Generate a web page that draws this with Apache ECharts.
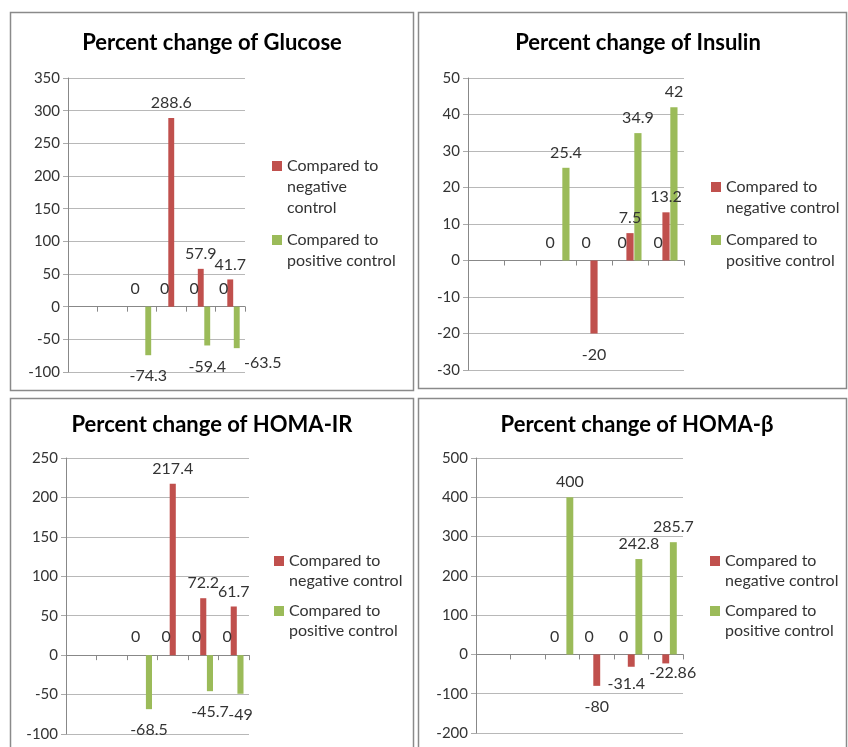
<!DOCTYPE html>
<html><head><meta charset="utf-8">
<script src="https://cdn.jsdelivr.net/npm/echarts@6/dist/echarts.min.js"></script>
<style>html,body{margin:0;padding:0;background:#fff}#c{width:848px;height:747px}</style>
</head><body><div id="c"></div>
<script>
// ---------- data ----------
const categories = ['G1', 'G2', 'G3', 'G4', 'G5', 'G6'];
const seriesNames = ['Compared to negative control', 'Compared to positive control'];
const zeroMarks = [null, null, 0, 0, 0, 0];

const glucoseNeg = [null, null, null, 288.6, 57.9, 41.7];
const glucosePos = [null, null, -74.3, null, -59.4, -63.5];
const glucoseTicks = [-100, -50, 0, 50, 100, 150, 200, 250, 300, 350];

const insulinNeg = [null, null, null, -20, 7.5, 13.2];
const insulinPos = [null, null, 25.4, null, 34.9, 42];
const insulinTicks = [-30, -20, -10, 0, 10, 20, 30, 40, 50];

const homaIrNeg = [null, null, null, 217.4, 72.2, 61.7];
const homaIrPos = [null, null, -68.5, null, -45.7, -49];
const homaIrTicks = [-100, -50, 0, 50, 100, 150, 200, 250];

const homaBNeg = [null, null, null, -80, -31.4, -22.86];
const homaBPos = [null, null, 400, null, 242.8, 285.7];
const homaBTicks = [-200, -100, 0, 100, 200, 300, 400, 500];

const titles = ['Percent change of Glucose', 'Percent change of Insulin', 'Percent change of HOMA-IR', 'Percent change of HOMA-β'];

// ---------- layout / style ----------
const FONT = 'Lato, "Open Sans", sans-serif';
const RED = '#C0504D', GREEN = '#9BBB59';
const panels = [
  { neg: glucoseNeg, pos: glucosePos, ticks: glucoseTicks, title: titles[0],
    box: [10.5, 12.5, 403, 378], grid: [68, 78, 177, 294], titleC: [212, 43],
    legendX: 272, legY: [166, 240], lh: 21,
    negText: 'Compared to\nnegative\ncontrol', posText: 'Compared to\npositive control',
    nudgePos: { 5: [26, -6] } },
  { neg: insulinNeg, pos: insulinPos, ticks: insulinTicks, title: titles[1],
    box: [418.5, 12.5, 428, 376], grid: [468, 78, 216, 292], titleC: [638, 43],
    legendX: 711, legY: [187, 240], lh: 21,
    negText: 'Compared to\nnegative control', posText: 'Compared to\npositive control' },
  { neg: homaIrNeg, pos: homaIrPos, ticks: homaIrTicks, title: titles[2],
    box: [10.5, 398.5, 403, 380], grid: [66, 458, 183, 276], titleC: [212, 425],
    legendX: 274, legY: [561, 611], lh: 20,
    negText: 'Compared to\nnegative control', posText: 'Compared to\npositive control' },
  { neg: homaBNeg, pos: homaBPos, ticks: homaBTicks, title: titles[3],
    box: [418.5, 398.5, 428, 380], grid: [476, 458, 207, 275], titleC: [637, 425],
    legendX: 710, legY: [561, 611], lh: 20,
    negText: 'Compared to\nnegative control', posText: 'Compared to\npositive control',
    nudgeNeg: { 4: [-5, -4], 5: [7, -12] } }
];

const ctx = document.createElement('canvas').getContext('2d');
function textW(str, font) { ctx.font = font; return ctx.measureText(str).width; }

const option = {
  animation: false,
  backgroundColor: '#fff',
  textStyle: { fontFamily: FONT },
  title: [], legend: [], grid: [], xAxis: [], yAxis: [], series: [], graphic: []
};

const labelBase = { show: true, position: 'outside', distance: 7, fontSize: 16, color: '#333', fontFamily: FONT };

function withNudge(arr, nudge) {
  return arr.map((v, i) => {
    if (v === null) return v;
    const lab = {};
    if (v < 0) lab.distance = 13;
    if (nudge && nudge[i]) lab.offset = nudge[i];
    return Object.keys(lab).length ? { value: v, label: lab } : v;
  });
}

panels.forEach((p, i) => {
  const [gl, gt, gw, gh] = p.grid;
  option.grid.push({ left: gl, top: gt, width: gw, height: gh });
  option.xAxis.push({
    type: 'category', gridIndex: i, data: categories,
    axisLabel: { show: false },
    axisTick: { show: true, length: 5, lineStyle: { color: '#888' } },
    axisLine: { show: true, lineStyle: { color: '#888' } },
    splitLine: { show: false }
  });
  const t = p.ticks;
  option.yAxis.push({
    type: 'value', gridIndex: i, min: t[0], max: t[t.length - 1], interval: t[1] - t[0],
    axisLine: { show: true, lineStyle: { color: '#888' } },
    axisTick: { show: true, length: 5, lineStyle: { color: '#aaa' } },
    splitLine: { show: true, lineStyle: { color: '#b8b8b8' } },
    axisLabel: { fontSize: 15, color: '#333', margin: 8, fontFamily: FONT }
  });
  option.series.push({
    type: 'bar', name: 'zero', xAxisIndex: i, yAxisIndex: i, data: zeroMarks,
    barWidth: '20%', barGap: '10%', itemStyle: { color: '#999' },
    label: Object.assign({}, labelBase, { position: 'top', distance: 10 })
  });
  option.series.push({
    type: 'bar', name: seriesNames[0], xAxisIndex: i, yAxisIndex: i,
    data: withNudge(p.neg, p.nudgeNeg), barWidth: '20%', barGap: '10%',
    itemStyle: { color: RED }, label: labelBase
  });
  option.series.push({
    type: 'bar', name: seriesNames[1], xAxisIndex: i, yAxisIndex: i,
    data: withNudge(p.pos, p.nudgePos), barWidth: '20%', barGap: '10%',
    itemStyle: { color: GREEN }, label: labelBase
  });

  // title centred on titleC
  const tf = 'bold 22px ' + FONT;
  const tw = textW(p.title, tf);
  option.title.push({
    text: p.title, left: p.titleC[0] - tw / 2, top: p.titleC[1] - 13, padding: 0,
    textStyle: { fontSize: 22, fontWeight: 'bold', color: '#000', fontFamily: FONT, lineHeight: 26 }
  });

  // legends: icon aligned with first text line (blank lines pad above)
  [[seriesNames[0], p.negText, p.legY[0]], [seriesNames[1], p.posText, p.legY[1]]].forEach(([nm, txt, y]) => {
    const n = txt.split('\n').length;
    const padded = '\n'.repeat(n - 1) + txt;
    const total = (2 * n - 1) * p.lh;
    option.legend.push({
      orient: 'vertical', left: p.legendX, top: y - total / 2, padding: 0,
      itemWidth: 10, itemHeight: 10, itemGap: 0, icon: 'rect', selectedMode: false,
      data: [nm], formatter: () => padded,
      textStyle: { fontSize: 16, lineHeight: p.lh, color: '#333', fontFamily: FONT }
    });
  });

  option.graphic.push({
    type: 'rect', z: -10, silent: true,
    shape: { x: p.box[0], y: p.box[1], width: p.box[2], height: p.box[3] },
    style: { fill: 'none', stroke: '#8a8a8a', lineWidth: 1.5 }
  });
});

const chart = echarts.init(document.getElementById('c'), null, { renderer: 'canvas' });
chart.setOption(option);
</script>
</body></html>
